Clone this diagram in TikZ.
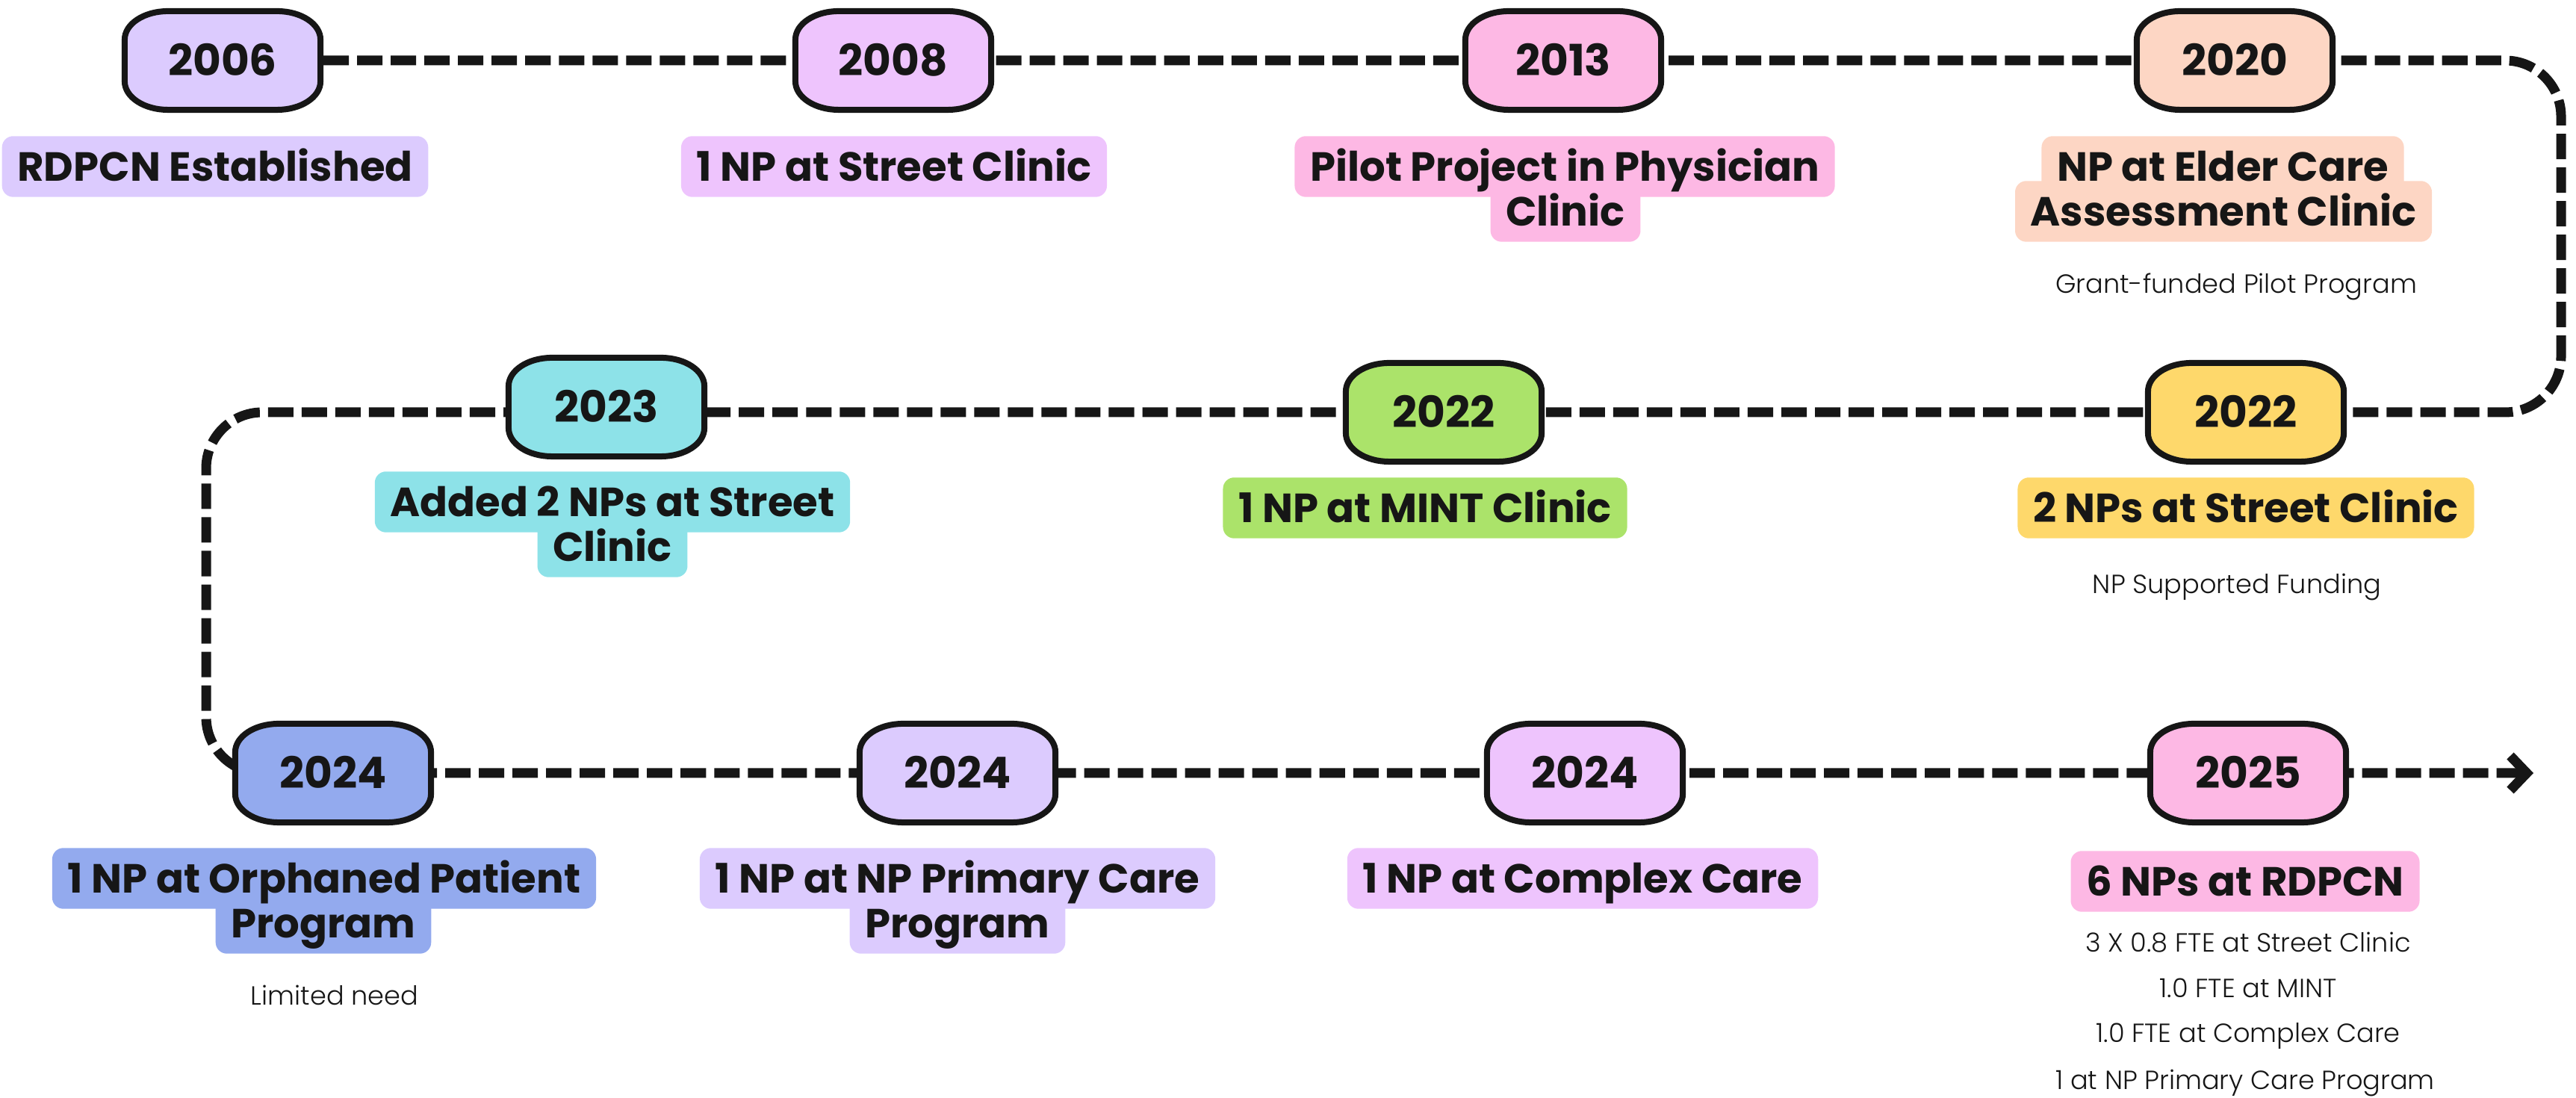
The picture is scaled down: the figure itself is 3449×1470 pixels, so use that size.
\documentclass[tikz,border=0pt]{standalone}
\usepackage{fontspec}
\setmainfont{Poppins}
\newfontfamily\notefont{Poppins Light}
\usetikzlibrary{arrows.meta,calc}
\definecolor{cLav}{HTML}{DCCBFE}
\definecolor{cOrch}{HTML}{EEC4FD}
\definecolor{cPink}{HTML}{FDB8E4}
\definecolor{cPeach}{HTML}{FDD6C4}
\definecolor{cCyan}{HTML}{8DE2E8}
\definecolor{cGreen}{HTML}{ABE36A}
\definecolor{cYellow}{HTML}{FED86B}
\definecolor{cBlue}{HTML}{93AAEE}
\definecolor{cInk}{HTML}{161616}
\pgfdeclarelayer{bg}\pgfdeclarelayer{mid}\pgfsetlayers{bg,mid,main}
\tikzset{
  yeartext/.style={font=\bfseries\fontsize{16.5}{19}\selectfont, text=cInk, minimum width=2.62cm, minimum height=1.32cm, inner sep=0pt, text height=11.6pt, text depth=0pt},
  pillline/.style={draw=cInk, line width=0.08cm},
  labtext/.style={font=\bfseries\fontsize{15.5}{18}\selectfont, text=cInk, inner xsep=0.2cm, inner ysep=0pt, minimum height=0.8cm, text height=10.9pt, text depth=0pt},
  notetext/.style={font=\notefont\fontsize{10}{12}\selectfont, text=cInk, inner sep=0pt, text height=7pt, text depth=0pt},
  conn/.style={draw=cInk, line width=0.13cm, dash pattern=on 0.34cm off 0.11cm, rounded corners=0.75cm},
}
\newcommand\yearpill[4]{%
  \node[yeartext] (#1) at (#2) {#4};
  \begin{pgfonlayer}{mid}
  \begin{scope}[shift={(#1.center)}]
  \filldraw[fill=#3, pillline] (-0.73cm,0.66cm) -- (0.73cm,0.66cm)
    arc[start angle=90,end angle=0,x radius=0.58cm,y radius=0.38cm]
    -- (1.31cm,-0.28cm)
    arc[start angle=0,end angle=-90,x radius=0.58cm,y radius=0.38cm]
    -- (-0.73cm,-0.66cm)
    arc[start angle=270,end angle=180,x radius=0.58cm,y radius=0.38cm]
    -- (-1.31cm,0.28cm)
    arc[start angle=180,end angle=90,x radius=0.58cm,y radius=0.38cm]
    -- cycle;
  \end{scope}
  \end{pgfonlayer}
}
\newcommand\lbl[4]{%
  \node[labtext] (#1) at (#2) {#4};
  \begin{pgfonlayer}{mid}
  \fill[#3, rounded corners=0.15cm] (#1.south west) rectangle (#1.north east);
  \end{pgfonlayer}
}
\begin{document}
\begin{tikzpicture}[x=0.01cm,y=0.01cm]
\useasboundingbox (0,0) rectangle (3449,1470);
% year pills
\yearpill{p2006}{298,1389}{cLav}{2006}
\yearpill{p2008}{1196,1389}{cOrch}{2008}
\yearpill{p2013}{2093,1389}{cPink}{2013}
\yearpill{p2020}{2992,1389}{cPeach}{2020}
\yearpill{p2023}{812,925}{cCyan}{2023}
\yearpill{p2022a}{1933,918}{cGreen}{2022}
\yearpill{p2022b}{3007,918}{cYellow}{2022}
\yearpill{p2024a}{446,435}{cBlue}{2024}
\yearpill{p2024b}{1282,435}{cLav}{2024}
\yearpill{p2024c}{2122,435}{cOrch}{2024}
\yearpill{p2025}{3010,435}{cPink}{2025}
% labels
\lbl{l2006}{288,1247}{cLav}{RDPCN Established}
\lbl{l2008}{1197,1247}{cOrch}{1 NP at Street Clinic}
\lbl{l2013a}{2095,1247}{cPink}{Pilot Project in Physician}
\lbl{l2013b}{2096,1187}{cPink}{Clinic}
\lbl{l2020a}{2976,1247}{cPeach}{NP at Elder Care}
\lbl{l2020b}{2977,1187}{cPeach}{Assessment Clinic}
\lbl{l2023a}{820,798}{cCyan}{Added 2 NPs at Street}
\lbl{l2023b}{820,738}{cCyan}{Clinic}
\lbl{l2022a}{1908,790}{cGreen}{1 NP at MINT Clinic}
\lbl{l2022b}{3007,790}{cYellow}{2 NPs at Street Clinic}
\lbl{l2024aa}{434,294}{cBlue}{1 NP at Orphaned Patient}
\lbl{l2024ab}{433,234}{cBlue}{Program}
\lbl{l2024ba}{1282,294}{cLav}{1 NP at NP Primary Care}
\lbl{l2024bb}{1282,234}{cLav}{Program}
\lbl{l2024c}{2119,294}{cOrch}{1 NP at Complex Care}
\lbl{l2025}{3006,290}{cPink}{6 NPs at RDPCN}
% notes
\node[notetext] (n2020) at (2994,1090) {Grant-funded Pilot Program};
\node[notetext] (n2022) at (2995,688) {NP Supported Funding};
\node[notetext] (n2024) at (448,137) {Limited need};
\node[notetext] (n2025a) at (3010,208) {3 X 0.8 FTE at Street Clinic};
\node[notetext] (n2025b) at (3010,147) {1.0 FTE at MINT};
\node[notetext] (n2025c) at (3010,87) {1.0 FTE at Complex Care};
\node[notetext] (n2025d) at (3006,24) {1 at NP Primary Care Program};
% connector
\coordinate (k1) at (3429,1389);
\coordinate (k2) at (3429,918);
\coordinate (k3) at (276,918);
\coordinate (k4) at (276,435);
\coordinate (tip) at (3392,435);
\begin{pgfonlayer}{bg}
\draw[conn, -{Straight Barb[length=0.22cm,width=0.46cm]}]
  (p2006.center) -- (p2008.center) -- (p2013.center) -- (p2020.center)
  -- (k1) -- (k2) -- (p2022b.center) -- (p2022a.center) -- (p2023 |- p2022a)
  -- (k3) -- (k4) -- (p2024a.center) -- (p2024b.center) -- (p2024c.center)
  -- (p2025.center) -- (tip);
\end{pgfonlayer}
\end{tikzpicture}
\end{document}
